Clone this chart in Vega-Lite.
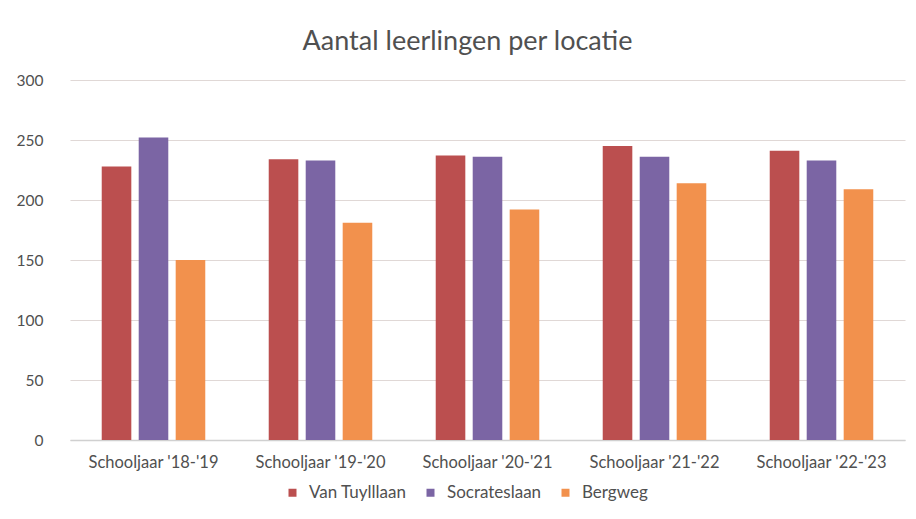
{
  "$schema": "https://vega.github.io/schema/vega-lite/v6.json",
  "width": 835,
  "height": 360,
  "autosize": "none",
  "padding": {"left": 70, "top": 80, "right": 11, "bottom": 79},
  "background": "white",
  "title": {
    "text": "Aantal leerlingen per locatie",
    "fontSize": 27,
    "font": "Lato",
    "fontWeight": "normal",
    "color": "#505050",
    "anchor": "middle",
    "dx": -20,
    "offset": 17
  },
  "config": {
    "view": {"stroke": null},
    "font": "Lato"
  },
  "data": {
    "values": [
      {"jaar": "Schooljaar '18-'19", "locatie": "Van Tuylllaan", "aantal": 228},
      {"jaar": "Schooljaar '18-'19", "locatie": "Socrateslaan", "aantal": 252},
      {"jaar": "Schooljaar '18-'19", "locatie": "Bergweg", "aantal": 150},
      {"jaar": "Schooljaar '19-'20", "locatie": "Van Tuylllaan", "aantal": 234},
      {"jaar": "Schooljaar '19-'20", "locatie": "Socrateslaan", "aantal": 233},
      {"jaar": "Schooljaar '19-'20", "locatie": "Bergweg", "aantal": 181},
      {"jaar": "Schooljaar '20-'21", "locatie": "Van Tuylllaan", "aantal": 237},
      {"jaar": "Schooljaar '20-'21", "locatie": "Socrateslaan", "aantal": 236},
      {"jaar": "Schooljaar '20-'21", "locatie": "Bergweg", "aantal": 192},
      {"jaar": "Schooljaar '21-'22", "locatie": "Van Tuylllaan", "aantal": 245},
      {"jaar": "Schooljaar '21-'22", "locatie": "Socrateslaan", "aantal": 236},
      {"jaar": "Schooljaar '21-'22", "locatie": "Bergweg", "aantal": 214},
      {"jaar": "Schooljaar '22-'23", "locatie": "Van Tuylllaan", "aantal": 241},
      {"jaar": "Schooljaar '22-'23", "locatie": "Socrateslaan", "aantal": 233},
      {"jaar": "Schooljaar '22-'23", "locatie": "Bergweg", "aantal": 209}
    ]
  },
  "mark": {"type": "bar"},
  "encoding": {
    "x": {
      "field": "jaar",
      "type": "nominal",
      "sort": null,
      "title": null,
      "scale": {"paddingInner": 0.38, "paddingOuter": 0.19},
      "axis": {
        "labelAngle": 0,
        "labelFontSize": 16.5,
        "labelColor": "#505050",
        "labelPadding": 14,
        "ticks": false,
        "domainColor": "#d0d0d0",
        "domainWidth": 1.5
      }
    },
    "xOffset": {
      "field": "locatie",
      "type": "nominal",
      "sort": ["Van Tuylllaan", "Socrateslaan", "Bergweg"],
      "scale": {"paddingInner": 0.2}
    },
    "y": {
      "field": "aantal",
      "type": "quantitative",
      "title": null,
      "scale": {"domain": [0, 300]},
      "axis": {
        "values": [0, 50, 100, 150, 200, 250, 300],
        "labelFontSize": 15.5,
        "labelColor": "#505050",
        "labelPadding": 27,
        "ticks": false,
        "domain": false,
        "gridColor": "#e0d8d6",
        "gridWidth": 1.2
      }
    },
    "color": {
      "field": "locatie",
      "type": "nominal",
      "sort": ["Van Tuylllaan", "Socrateslaan", "Bergweg"],
      "scale": {
        "domain": ["Van Tuylllaan", "Socrateslaan", "Bergweg"],
        "range": ["#BB4F4F", "#7B65A4", "#F2914D"]
      },
      "legend": {
        "orient": "none",
        "direction": "horizontal",
        "legendX": 214,
        "legendY": 404,
        "title": null,
        "symbolType": "square",
        "symbolSize": 64,
        "labelFontSize": 17,
        "labelColor": "#505050",
        "columnPadding": 15,
        "labelOffset": 8
      }
    }
  }
}
